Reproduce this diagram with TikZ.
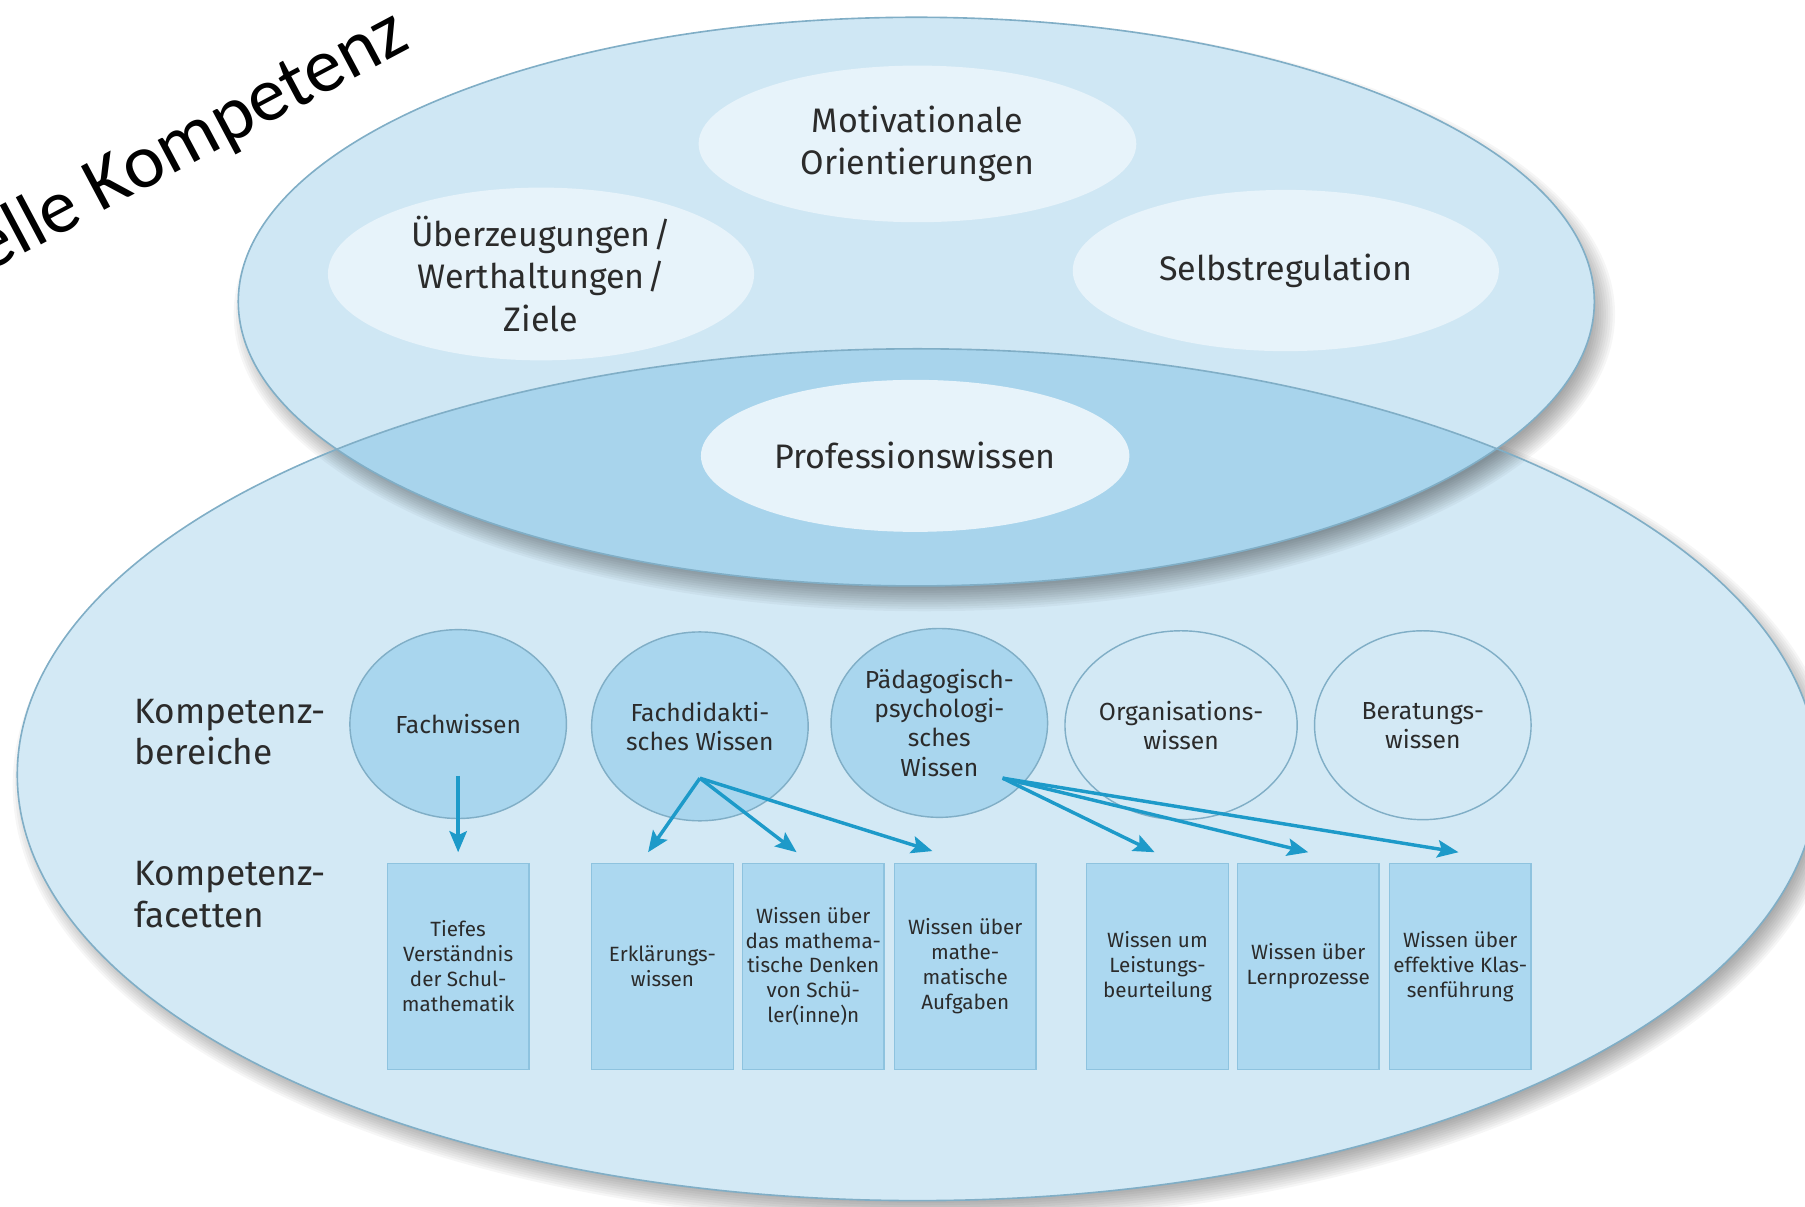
\documentclass[tikz,border=0pt]{standalone}
\usepackage{fontspec}
\setmainfont{Fira Sans}
\newfontfamily\titlefont{Carlito}
\usetikzlibrary{shapes.geometric,arrows.meta,calc}

\definecolor{topfill}{HTML}{CFE7F4}
\definecolor{botfill}{HTML}{D3E9F5}
\definecolor{overlapfill}{HTML}{A8D4EC}
\definecolor{palefill}{HTML}{E7F3FA}
\definecolor{areafill}{HTML}{A9D6EE}
\definecolor{facetfill}{HTML}{ACD8F0}
\definecolor{facetline}{HTML}{8EC3DF}
\definecolor{rimline}{HTML}{80AEC6}
\definecolor{arrowblue}{HTML}{1D9AC9}
\definecolor{inktext}{HTML}{2B2B2B}

\tikzset{
  pale/.style={ellipse, fill=palefill, inner sep=0pt, text=inktext, align=center,
    font=\fontsize{8.4}{10.5}\selectfont},
  area/.style={ellipse, draw=rimline, line width=0.35pt, inner sep=0pt,
    minimum width=1.88cm, minimum height=1.64cm, text=inktext, align=center,
    font=\fontsize{6.1}{7.2}\selectfont},
  filledarea/.style={area, fill=areafill},
  facet/.style={rectangle, fill=facetfill, draw=facetline, line width=0.35pt,
    minimum width=1.23cm, minimum height=1.79cm, inner sep=0pt, text=inktext,
    align=center, font=\fontsize{5.1}{6.15}\selectfont},
  rowlabel/.style={anchor=west, inner sep=0pt, text=inktext, align=left,
    font=\fontsize{8.7}{10.3}\selectfont},
  link/.style={draw=arrowblue, line width=0.85pt,
    -{Stealth[length=5.2pt, width=4.3pt, inset=1pt]}},
}

\begin{document}
\begin{tikzpicture}[x=0.01cm, y=-0.01cm]
\useasboundingbox (0,0) rectangle (1568,1048);
\clip (0,0) rectangle (1568,1048);

% soft shadow of the lower ellipse
\foreach \i in {0,...,11}
  \fill[black, opacity=0.035] (804,682) ellipse [x radius={782+11-2*\i}, y radius={370+11-2*\i}];
% lower ellipse
\fill[botfill] (797,673) ellipse [x radius=782, y radius=370];

% soft shadow of the upper ellipse
\foreach \i in {0,...,11}
  \fill[black, opacity=0.035] (803,273) ellipse [x radius={589+11-2*\i}, y radius={247+11-2*\i}];
% upper ellipse
\fill[topfill] (796,262) ellipse [x radius=589, y radius=247];

% common part of both ellipses
\begin{scope}
  \clip (797,673) ellipse [x radius=782, y radius=370];
  \fill[overlapfill] (796,262) ellipse [x radius=589, y radius=247];
\end{scope}

% rims
\draw[rimline, line width=0.4pt] (797,673) ellipse [x radius=782, y radius=370];
\draw[rimline, line width=0.4pt] (796,262) ellipse [x radius=589, y radius=247];

% title
\node[rotate=28, anchor=base west, inner sep=0pt, font=\titlefont\fontsize{19}{22}\selectfont]
  (title) at (-12,238) {elle Kompetenz};

% personal characteristics
\node[pale, minimum width=3.80cm, minimum height=1.36cm] (motiv) at (797,125)
  {Motivationale\\Orientierungen};
\node[pale, minimum width=3.70cm, minimum height=1.50cm] (beliefs) at (470,238)
  {Überzeugungen\kern0.6pt/\\Werthaltungen\kern0.6pt/\\Ziele};
\node[pale, minimum width=3.70cm, minimum height=1.40cm] (selfreg) at (1117,235)
  {Selbstregulation};
\node[pale, minimum width=3.72cm, minimum height=1.32cm] (prof) at (795,396)
  {Professionswissen};

% row labels
\node[rowlabel] (lblareas) at (116,636) {Kompetenz-\\bereiche};
\node[rowlabel] (lblfacets) at (116,777) {Kompetenz-\\facetten};

% competence areas
\node[filledarea] (fw) at (398,629) {Fachwissen};
\node[filledarea] (fd) at (608,631) {Fachdidakti-\\sches Wissen};
\node[filledarea] (pp) at (816,628) {Pädagogisch-\\psychologi-\\sches\\Wissen};
\node[area] (org) at (1026,630) {Organisations-\\wissen};
\node[area] (ber) at (1236,630) {Beratungs-\\wissen};

% competence facets
\node[facet] (b1) at (398,839.5) {Tiefes\\Verständnis\\der Schul-\\mathematik};
\node[facet] (b2) at (575.5,839.5) {Erklärungs-\\wissen};
\node[facet] (b3) at (706.5,839.5) {Wissen über\\das mathema-\\tische Denken\\von Schü-\\ler(inne)n};
\node[facet] (b4) at (838.5,839.5) {Wissen über\\mathe-\\matische\\Aufgaben};
\node[facet] (b5) at (1005.5,839.5) {Wissen um\\Leistungs-\\beurteilung};
\node[facet] (b6) at (1136.5,839.5) {Wissen über\\Lernprozesse};
\node[facet] (b7) at (1268.5,839.5) {Wissen über\\effektive Klas-\\senführung};

% arrow origins inside the areas
\coordinate (fwout) at ($(fw.center)+(0,45)$);
\coordinate (fdout) at ($(fd.center)+(0,45)$);
\coordinate (ppout) at ($(pp.center)+(55,48)$);

% arrows
\draw[link] (fwout) -- ($(b1.north)+(0,-9)$);
\draw[link] (fdout) -- ($(b2.north)+(-12.5,-9)$);
\draw[link] (fdout) -- ($(b3.north)+(-14.5,-9)$);
\draw[link] (fdout) -- ($(b4.north)+(-28.5,-10)$);
\draw[link] (ppout) -- ($(b5.north)+(-2.5,-9)$);
\draw[link] (ppout) -- ($(b6.north)+(0,-9)$);
\draw[link] (ppout) -- ($(b7.north)+(-1.5,-9)$);
\end{tikzpicture}
\end{document}
